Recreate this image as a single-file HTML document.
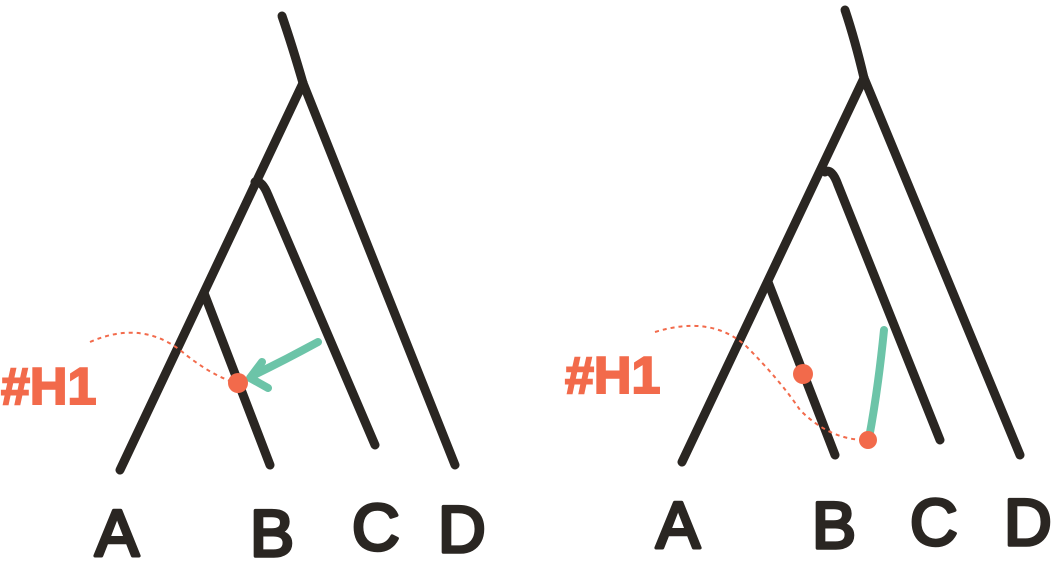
<!DOCTYPE html>
<html><head><meta charset="utf-8"><style>
html,body{margin:0;padding:0;background:#fff;}
svg{display:block;}
.br{fill:none;stroke:#2a2622;stroke-width:9;stroke-linecap:round;stroke-linejoin:round;}
.lbl{font-family:"Liberation Sans",sans-serif;font-size:66px;fill:#2a2622;stroke:#2a2622;stroke-width:3.5;stroke-linejoin:round;}
.h1{font-family:"Liberation Sans",sans-serif;font-size:52px;font-weight:bold;fill:#f26a4b;stroke:#f26a4b;stroke-width:2;}
.dash{fill:none;stroke:#f26a4b;stroke-width:2;stroke-dasharray:4 4;}
.teal{fill:none;stroke:#6cc4a8;stroke-width:8;stroke-linecap:round;stroke-linejoin:round;}
</style></head><body>
<svg width="1064" height="563" viewBox="0 0 1064 563">
<g>
<path class="br" d="M282 16 Q292 45 303 83"/>
<path class="br" d="M303 83 L455 465"/>
<path class="br" d="M303 83 L120 470"/>
<path class="br" d="M255 182 Q262 180 268 195 L375 445"/>
<path class="br" d="M204 293 L270 465"/>
<path class="dash" d="M90 342 Q140 320 180 350 Q210 375 236 383"/>
<path class="teal" d="M318 342 Q285 360 252 376 M262 362 L250 378 L268 388"/>
<circle cx="238" cy="383" r="10" fill="#f26a4b"/>
<text class="h1" x="1" y="404">#H1</text>
<text class="lbl" x="95" y="556">A</text>
<text class="lbl" x="250" y="556">B</text>
<text class="lbl" x="352" y="550">C</text>
<text class="lbl" x="438" y="552">D</text>
</g>
<g>
<path class="br" d="M845 10 Q855 40 864 78"/>
<path class="br" d="M864 78 L1020 455"/>
<path class="br" d="M864 78 L682 462"/>
<path class="br" d="M825 172 Q832 168 838 185 L940 440"/>
<path class="br" d="M768 282 L835 455"/>
<path class="dash" d="M655 332 Q710 315 745 345 Q780 380 800 410 Q830 440 866 440"/>
<path class="teal" d="M884 330 Q878 390 869 438"/>
<circle cx="803" cy="374" r="10" fill="#f26a4b"/>
<circle cx="868" cy="440" r="9" fill="#f26a4b"/>
<text class="h1" x="565" y="393">#H1</text>
<text class="lbl" x="656" y="548">A</text>
<text class="lbl" x="812" y="548">B</text>
<text class="lbl" x="910" y="545">C</text>
<text class="lbl" x="1004" y="545">D</text>
</g>
</svg>
</body></html>
